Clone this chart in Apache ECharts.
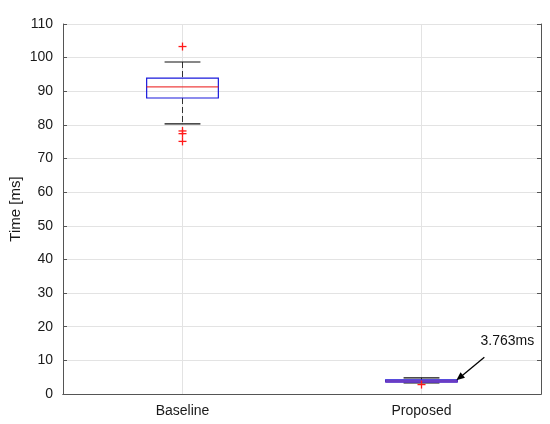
<!DOCTYPE html>
<html><head><meta charset="utf-8">
<script src="https://cdn.jsdelivr.net/npm/echarts@6/dist/echarts.min.js"></script>
<style>html,body{margin:0;padding:0;background:#fff}#c{width:550px;height:424px}</style>
</head><body><div id="c"></div>
<script>
var categories = ['Baseline', 'Proposed'];
// [lowerWhisker, Q1, median, Q3, upperWhisker]
var baselineStats = [80.3, 88.0, 91.3, 93.9, 98.7];
var proposedStats = [3.3, 3.6, 3.763, 4.2, 4.8];
var baselineOutliers = [103.3, 78.2, 77.4, 75.1];
var proposedOutliers = [2.8];
var yTicks = [0, 10, 20, 30, 40, 50, 60, 70, 80, 90, 100, 110];
var annotationText = '3.763ms';

var stats = [baselineStats, proposedStats];
var outliers = [];
baselineOutliers.forEach(function(v){ outliers.push([0, v]); });
proposedOutliers.forEach(function(v){ outliers.push([1, v]); });

var FONT = 'Liberation Sans';
var chart = echarts.init(document.getElementById('c'));

function renderBox(params, api) {
  var idx = api.value(0);
  var s = stats[idx];
  var band = api.size([1, 0])[0];
  var bw = band * 0.3, cw = band * 0.15;
  var pLo = api.coord([idx, s[0]]), pQ1 = api.coord([idx, s[1]]), pMed = api.coord([idx, s[2]]);
  var pQ3 = api.coord([idx, s[3]]), pHi = api.coord([idx, s[4]]);
  var pTop = api.coord([idx, yTicks[yTicks.length - 1]]), pBot = api.coord([idx, yTicks[0]]);
  var x = pMed[0];
  var ch = [];
  ch.push({type: 'line', shape: {x1: x, y1: pTop[1], x2: x, y2: pBot[1]}, style: {stroke: '#e3e3e3', lineWidth: 1}, z2: 0});
  ch.push({type: 'line', shape: {x1: x, y1: pHi[1], x2: x, y2: pQ3[1]}, style: {stroke: '#333', lineWidth: 1, lineDash: [6, 3]}, z2: 1});
  ch.push({type: 'line', shape: {x1: x, y1: pQ1[1], x2: x, y2: pLo[1]}, style: {stroke: '#333', lineWidth: 1, lineDash: [6, 3]}, z2: 1});
  ch.push({type: 'line', shape: {x1: x - cw / 2, y1: pHi[1], x2: x + cw / 2, y2: pHi[1]}, style: {stroke: '#111', lineWidth: 1.2}, z2: 2});
  ch.push({type: 'line', shape: {x1: x - cw / 2, y1: pLo[1], x2: x + cw / 2, y2: pLo[1]}, style: {stroke: '#111', lineWidth: 1.2}, z2: 2});
  ch.push({type: 'rect', shape: {x: x - bw / 2, y: pQ3[1], width: bw, height: pQ1[1] - pQ3[1]}, style: {stroke: '#1a1adb', fill: 'none', lineWidth: 1.2}, z2: 3});
  ch.push({type: 'line', shape: {x1: x - bw / 2, y1: pMed[1], x2: x + bw / 2, y2: pMed[1]}, style: {stroke: 'rgba(235,30,30,0.85)', lineWidth: 1.2}, z2: 4});
  if (idx === 1) {
    // blue box edges and red median overlap -> purple band
    ch.push({type: 'rect', shape: {x: x - bw / 2, y: pMed[1] - 1.5, width: bw, height: 3}, style: {fill: '#6a3cc4'}, z2: 5});
    // annotation arrow + text
    var hx = x + bw / 2 - 1, hy = pMed[1] - 1;
    var tx = hx + 28, ty = hy - 23;
    var ang = Math.atan2(hy - ty, hx - tx);
    var al = 9, aw = 0.4;
    ch.push({type: 'line', shape: {x1: tx, y1: ty, x2: hx - Math.cos(ang) * 5, y2: hy - Math.sin(ang) * 5}, style: {stroke: '#000', lineWidth: 1.3}, z2: 6});
    ch.push({type: 'polygon', shape: {points: [[hx, hy], [hx - al * Math.cos(ang - aw), hy - al * Math.sin(ang - aw)], [hx - al * Math.cos(ang + aw), hy - al * Math.sin(ang + aw)]]}, style: {fill: '#000'}, z2: 6});
    ch.push({type: 'text', style: {text: annotationText, x: tx + 23, y: ty - 16, textAlign: 'center', textVerticalAlign: 'middle', fontSize: 14, fontFamily: FONT, fill: '#111'}, z2: 6});
  }
  return {type: 'group', children: ch};
}

function renderOutlier(params, api) {
  var p = api.coord([api.value(0), api.value(1)]);
  var h = 4;
  return {type: 'group', children: [
    {type: 'line', shape: {x1: p[0] - h, y1: p[1], x2: p[0] + h, y2: p[1]}, style: {stroke: '#ff1a1a', lineWidth: 1.3}},
    {type: 'line', shape: {x1: p[0], y1: p[1] - h, x2: p[0], y2: p[1] + h}, style: {stroke: '#ff1a1a', lineWidth: 1.3}}
  ]};
}

var axisLineStyle = {color: '#555', width: 1};
chart.setOption({
  animation: false,
  backgroundColor: '#fff',
  grid: {left: 63, right: 9, top: 24, bottom: 30, containLabel: false, outerBoundsMode: 'none'},
  xAxis: [{
    type: 'category', data: categories, position: 'bottom',
    axisLine: {lineStyle: axisLineStyle},
    axisTick: {inside: true, alignWithLabel: true, length: 4, lineStyle: axisLineStyle},
    axisLabel: {fontSize: 14, fontFamily: FONT, color: '#1a1a1a', margin: 10},
    splitLine: {show: false}
  }, {
    type: 'category', data: categories, position: 'top',
    axisLine: {lineStyle: axisLineStyle},
    axisTick: {inside: true, alignWithLabel: true, length: 4, lineStyle: axisLineStyle},
    axisLabel: {show: false}, splitLine: {show: false}
  }],
  yAxis: [{
    type: 'value', min: yTicks[0], max: yTicks[yTicks.length - 1], interval: 10, position: 'left',
    name: 'Time [ms]', nameLocation: 'middle', nameGap: 40, nameMoveOverlap: false,
    nameTextStyle: {fontSize: 15, fontFamily: FONT, color: '#1a1a1a'},
    axisLine: {show: true, lineStyle: axisLineStyle},
    axisTick: {show: true, inside: true, length: 4, lineStyle: axisLineStyle},
    axisLabel: {fontSize: 14, fontFamily: FONT, color: '#1a1a1a', margin: 10},
    splitLine: {show: true, lineStyle: {color: '#e3e3e3', width: 1}}
  }, {
    type: 'value', min: yTicks[0], max: yTicks[yTicks.length - 1], interval: 10, position: 'right',
    axisLine: {show: true, lineStyle: axisLineStyle},
    axisTick: {show: true, inside: true, length: 4, lineStyle: axisLineStyle},
    axisLabel: {show: false}, splitLine: {show: false}
  }],
  series: [{
    type: 'custom', xAxisIndex: 0, yAxisIndex: 0,
    data: categories.map(function(c, i){ return [i]; }),
    encode: {x: 0},
    renderItem: renderBox, clip: false
  }, {
    type: 'custom', xAxisIndex: 0, yAxisIndex: 0,
    data: outliers, encode: {x: 0, y: 1},
    renderItem: renderOutlier, z: 5
  }]
});
</script></body></html>
